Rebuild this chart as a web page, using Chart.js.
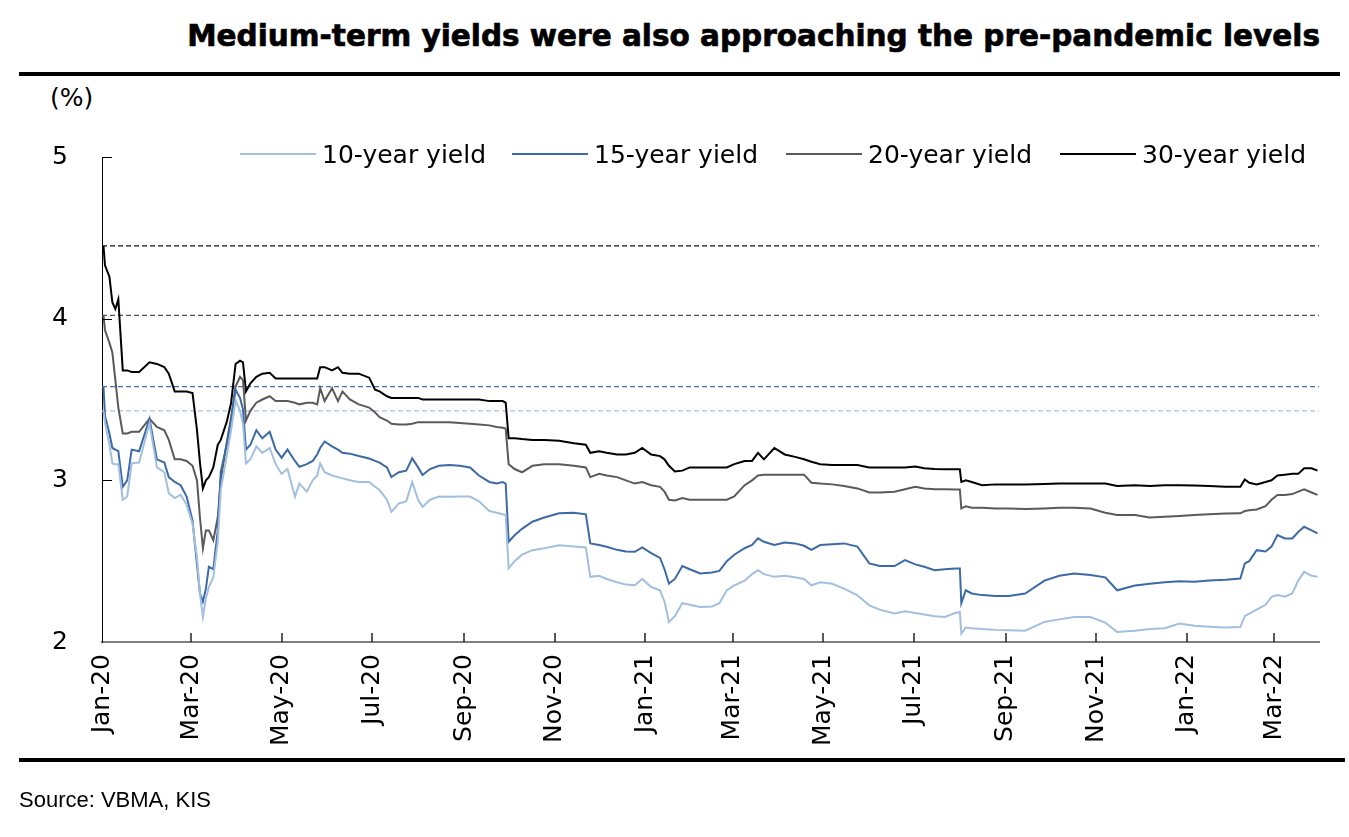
<!DOCTYPE html>
<html>
<head>
<meta charset="utf-8">
<script src="https://cdn.jsdelivr.net/npm/chart.js@4.4.1/dist/chart.umd.min.js"></script>
<style>
  html, body { margin: 0; padding: 0; background: #fff; }
  #wrap { position: relative; width: 1349px; height: 837px; overflow: hidden; font-family: "DejaVu Sans", sans-serif; }
  #chart { position: absolute; left: 0; top: 0; }
  .title { position: absolute; right: 29px; top: 19px; font: bold 29.5px "DejaVu Sans", sans-serif; color: #000; white-space: nowrap; -webkit-text-stroke: 0.7px #000; }
  .rule { position: absolute; left: 19px; height: 4px; background: #000; }
  .unit { position: absolute; left: 50px; top: 83px; font-size: 25px; color: #000; }
  .source { position: absolute; left: 19px; top: 787px; font: 22px "Liberation Sans", Arial, sans-serif; color: #000; }
  .legend-item { position: absolute; top: 138px; height: 32px; display: flex; align-items: center; font-size: 25px; color: #000; white-space: nowrap; }
  .legend-item span.line { display: inline-block; width: 76px; height: 2px; margin-right: 6px; }
</style>
</head>
<body>
<div id="wrap">
  <div class="title">Medium-term yields were also approaching the pre-pandemic levels</div>
  <div class="rule" style="top:72px; width:1321px;"></div>
  <div class="unit">(%)</div>
  <canvas id="chart" width="1349" height="837"></canvas>
  <div id="legend"></div>
  <div class="rule" style="top:758px; width:1326px;"></div>
  <div class="source">Source: VBMA, KIS</div>
</div>
<script>
// days after 1 Jan 2020
const dayOffsets = [
    1, 2, 5, 7, 9, 11, 14, 17, 20, 25,
    32, 37, 42, 45, 49, 53, 57, 61, 64, 66,
    68, 70, 72, 75, 78, 80, 84, 87, 90, 93,
    95, 97, 100, 104, 108, 113, 117, 121, 125, 130,
    133, 138, 142, 145, 147, 150, 155, 159, 162, 167,
    173, 180, 184, 187, 192, 195, 200, 205, 209, 213,
    216, 221, 227, 234, 241, 248, 254, 261, 266, 270,
    272, 274, 278, 283, 290, 298, 308, 318, 326, 329,
    335, 340, 347, 353, 359, 364, 370, 376, 379, 382,
    386, 391, 396, 403, 411, 416, 421, 426, 433, 438,
    442, 446, 453, 460, 467, 473, 478, 484, 492, 500,
    509, 517, 524, 534, 541, 548, 554, 561, 568, 575,
    578, 579, 582, 586, 593, 602, 611, 622, 635, 645,
    655, 666, 676, 684, 696, 706, 716, 726, 736, 746,
    757, 767, 770, 773, 778, 784, 788, 792, 797, 802,
    806, 810, 815, 819
];

const y10 = [
    3.43, 3.36, 3.22, 3.105, 3.10, 3.10, 2.88, 2.90, 3.105, 3.11,
    3.353, 3.08, 3.05, 2.92, 2.89, 2.91, 2.85, 2.73, 2.52, 2.30,
    2.155, 2.27, 2.34, 2.40, 2.62, 2.94, 3.15, 3.31, 3.497, 3.43,
    3.35, 3.105, 3.13, 3.21, 3.17, 3.20, 3.10, 3.04, 3.07, 2.90,
    2.98, 2.93, 3.00, 3.03, 3.105, 3.05, 3.03, 3.02, 3.012, 3.00,
    2.99, 2.99, 2.96, 2.94, 2.88, 2.805, 2.857, 2.87, 2.99, 2.88,
    2.836, 2.88, 2.90, 2.898, 2.90, 2.90, 2.87, 2.81, 2.80, 2.79,
    2.785, 2.455, 2.50, 2.54, 2.568, 2.58, 2.599, 2.59, 2.585, 2.403,
    2.41, 2.39, 2.37, 2.355, 2.351, 2.39, 2.34, 2.32, 2.25, 2.124,
    2.16, 2.24, 2.23, 2.217, 2.22, 2.24, 2.32, 2.35, 2.38, 2.42,
    2.444, 2.42, 2.403, 2.41, 2.40, 2.39, 2.351, 2.37, 2.36, 2.33,
    2.289, 2.227, 2.20, 2.176, 2.19, 2.18, 2.17, 2.16, 2.155, 2.18,
    2.186, 2.052, 2.09, 2.085, 2.08, 2.075, 2.072, 2.07, 2.124, 2.14,
    2.155, 2.155, 2.12, 2.062, 2.07, 2.08, 2.085, 2.114, 2.10, 2.095,
    2.09, 2.093, 2.16, 2.176, 2.20, 2.23, 2.279, 2.29, 2.28, 2.30,
    2.38, 2.434, 2.41, 2.403
];

const y15 = [
    3.58, 3.40, 3.29, 3.20, 3.19, 3.18, 2.96, 3.00, 3.19, 3.18,
    3.38, 3.13, 3.11, 3.02, 2.99, 2.97, 2.90, 2.75, 2.48, 2.30,
    2.25, 2.33, 2.465, 2.45, 2.69, 3.05, 3.22, 3.37, 3.56, 3.51,
    3.44, 3.19, 3.22, 3.31, 3.26, 3.30, 3.19, 3.14, 3.19, 3.12,
    3.084, 3.10, 3.12, 3.16, 3.20, 3.24, 3.21, 3.19, 3.17, 3.165,
    3.15, 3.135, 3.12, 3.11, 3.08, 3.02, 3.05, 3.06, 3.136, 3.08,
    3.033, 3.07, 3.09, 3.095, 3.09, 3.08, 3.03, 2.99, 2.98, 2.99,
    2.98, 2.62, 2.66, 2.70, 2.744, 2.77, 2.796, 2.80, 2.79, 2.61,
    2.60, 2.589, 2.57, 2.56, 2.558, 2.585, 2.55, 2.52, 2.45, 2.362,
    2.39, 2.47, 2.45, 2.424, 2.43, 2.44, 2.50, 2.54, 2.58, 2.60,
    2.641, 2.62, 2.60, 2.615, 2.61, 2.595, 2.57, 2.60, 2.605, 2.61,
    2.59, 2.486, 2.47, 2.47, 2.506, 2.48, 2.465, 2.444, 2.45, 2.455,
    2.455, 2.24, 2.32, 2.30, 2.29, 2.285, 2.285, 2.30, 2.38, 2.41,
    2.424, 2.415, 2.40, 2.32, 2.35, 2.36, 2.37, 2.375, 2.372, 2.38,
    2.385, 2.393, 2.486, 2.50, 2.568, 2.56, 2.59, 2.661, 2.64, 2.64,
    2.68, 2.713, 2.69, 2.672
];

const y20 = [
    4.02, 3.93, 3.85, 3.79, 3.62, 3.45, 3.29, 3.29, 3.30, 3.30,
    3.38, 3.33, 3.31, 3.25, 3.13, 3.13, 3.12, 3.09, 3.00, 2.77,
    2.58, 2.69, 2.69, 2.63, 2.77, 3.00, 3.23, 3.39, 3.58, 3.64,
    3.62, 3.37, 3.43, 3.48, 3.50, 3.52, 3.49, 3.49, 3.49, 3.48,
    3.47, 3.48, 3.48, 3.47, 3.57, 3.49, 3.57, 3.49, 3.55, 3.50,
    3.47, 3.45, 3.42, 3.39, 3.37, 3.35, 3.345, 3.345, 3.35, 3.36,
    3.36, 3.36, 3.36, 3.36, 3.355, 3.35, 3.345, 3.34, 3.33, 3.325,
    3.32, 3.10, 3.07, 3.05, 3.09, 3.10, 3.10, 3.09, 3.08, 3.02,
    3.04, 3.03, 3.02, 3.00, 2.98, 2.99, 2.97, 2.96, 2.93, 2.88,
    2.875, 2.89, 2.88, 2.88, 2.88, 2.88, 2.88, 2.90, 2.97, 3.00,
    3.03, 3.035, 3.035, 3.035, 3.035, 3.035, 2.985, 2.98, 2.975, 2.965,
    2.95, 2.925, 2.925, 2.93, 2.945, 2.96, 2.95, 2.945, 2.945, 2.944,
    2.944, 2.826, 2.84, 2.83, 2.83, 2.826, 2.826, 2.823, 2.826, 2.83,
    2.83, 2.826, 2.80, 2.785, 2.785, 2.77, 2.775, 2.78, 2.785, 2.79,
    2.795, 2.796, 2.81, 2.815, 2.82, 2.84, 2.88, 2.91, 2.91, 2.915,
    2.93, 2.944, 2.925, 2.91
];

const y30 = [
    4.45, 4.33, 4.26, 4.10, 4.06, 4.12, 3.68, 3.68, 3.67, 3.67,
    3.73, 3.72, 3.70, 3.66, 3.55, 3.55, 3.55, 3.54, 3.31, 3.11,
    2.95, 3.00, 3.02, 3.08, 3.22, 3.25, 3.36, 3.48, 3.72, 3.74,
    3.73, 3.55, 3.60, 3.64, 3.66, 3.665, 3.63, 3.63, 3.63, 3.63,
    3.63, 3.63, 3.63, 3.63, 3.70, 3.70, 3.68, 3.70, 3.665, 3.66,
    3.66, 3.635, 3.56, 3.55, 3.52, 3.51, 3.51, 3.51, 3.51, 3.51,
    3.50, 3.50, 3.50, 3.50, 3.50, 3.50, 3.50, 3.49, 3.49, 3.49,
    3.48, 3.26, 3.26, 3.255, 3.25, 3.25, 3.245, 3.23, 3.22, 3.17,
    3.18, 3.17, 3.16, 3.16, 3.17, 3.20, 3.16, 3.15, 3.13, 3.09,
    3.055, 3.06, 3.08, 3.08, 3.08, 3.08, 3.08, 3.10, 3.12, 3.12,
    3.17, 3.13, 3.20, 3.16, 3.145, 3.13, 3.115, 3.10, 3.095, 3.095,
    3.095, 3.08, 3.08, 3.08, 3.08, 3.085, 3.075, 3.07, 3.068, 3.068,
    3.068, 2.99, 3.00, 2.99, 2.97, 2.975, 2.975, 2.975, 2.978, 2.98,
    2.98, 2.98, 2.98, 2.965, 2.97, 2.965, 2.97, 2.97, 2.968, 2.965,
    2.96, 2.96, 3.005, 2.985, 2.975, 2.99, 3.00, 3.03, 3.035, 3.04,
    3.04, 3.075, 3.075, 3.06
];

// pre-pandemic levels (start of 2020): 30y, 20y, 15y, 10y
const preLevels = [4.45, 4.02, 3.58, 3.43];

const tickDays = [0, 60, 121, 182, 244, 305, 366, 425, 486, 547, 609, 670, 731, 790];
const tickLabels = ["Jan-20", "Mar-20", "May-20", "Jul-20", "Sep-20", "Nov-20", "Jan-21",
                    "Mar-21", "May-21", "Jul-21", "Sep-21", "Nov-21", "Jan-22", "Mar-22"];

const xMax = 820;

const series = [
    { label: "10-year yield", values: y10, color: "#a3bfdf" },
    { label: "15-year yield", values: y15, color: "#3c6aa6" },
    { label: "20-year yield", values: y20, color: "#5a5a5a" },
    { label: "30-year yield", values: y30, color: "#000000" }
];
const dashColors = ["#111111", "#555555", "#4a70a6", "#a9c2df"];

const datasets = series.map(s => ({
    label: s.label,
    data: dayOffsets.map((d, i) => ({ x: d, y: s.values[i] })),
    borderColor: s.color,
    borderWidth: 2,
    pointRadius: 0,
    tension: 0,
    order: 1
}));

preLevels.forEach((v, i) => {
    datasets.push({
        label: "pre-" + i,
        data: [{ x: 0, y: v }, { x: xMax, y: v }],
        borderColor: dashColors[i],
        borderWidth: 1.3,
        borderDash: [5, 3],
        pointRadius: 0,
        order: 10
    });
});

// legend (sits inside the plot area, so done in html)
const legendLeft = [240, 512, 786, 1060];
const legendEl = document.getElementById("legend");
series.forEach((s, i) => {
    const item = document.createElement("div");
    item.className = "legend-item";
    item.style.left = legendLeft[i] + "px";
    item.innerHTML = '<span class="line" style="background:' + s.color + '"></span>' + s.label;
    legendEl.appendChild(item);
});

const innerTicks = {
    id: "innerTicks",
    afterDraw(chart) {
        const { ctx, scales: { x, y } } = chart;
        ctx.save();
        ctx.strokeStyle = "#000";
        ctx.lineWidth = 1;
        [3, 4, 5].forEach(v => {
            const py = Math.round(y.getPixelForValue(v)) + 0.5;
            ctx.beginPath();
            ctx.moveTo(x.left, py);
            ctx.lineTo(x.left + 10, py);
            ctx.stroke();
        });
        ctx.strokeStyle = "#222";
        ctx.lineWidth = 1.5;
        tickDays.slice(1).forEach(d => {
            const px = Math.round(x.getPixelForValue(d));
            ctx.beginPath();
            ctx.moveTo(px, y.bottom);
            ctx.lineTo(px, y.bottom - 9);
            ctx.stroke();
        });
        ctx.restore();
    }
};

new Chart(document.getElementById("chart"), {
    type: "line",
    data: { datasets },
    options: {
        responsive: false,
        devicePixelRatio: 1,
        animation: false,
        layout: { padding: { top: 157, right: 30, bottom: 85, left: 0 } },
        plugins: {
            legend: { display: false },
            tooltip: { enabled: false }
        },
        scales: {
            x: {
                type: "linear",
                min: 0,
                max: xMax,
                afterBuildTicks: scale => {
                    scale.ticks = tickDays.map(v => ({ value: v }));
                },
                afterFit: scale => { scale.height = 110; },
                grid: { display: false, drawTicks: false },
                border: { display: true, color: "#7f7f7f", width: 2 },
                ticks: {
                    autoSkip: false,
                    minRotation: 90,
                    maxRotation: 90,
                    padding: 12,
                    color: "#000",
                    font: { family: "DejaVu Sans", size: 25 },
                    callback: v => tickLabels[tickDays.indexOf(v)]
                }
            },
            y: {
                min: 2,
                max: 5,
                afterFit: scale => { scale.width = 102; },
                grid: { display: false, drawTicks: false },
                border: { display: true, color: "#000", width: 1 },
                ticks: {
                    stepSize: 1,
                    padding: 34,
                    color: "#000",
                    font: { family: "DejaVu Sans", size: 25 }
                }
            }
        }
    },
    plugins: [innerTicks]
});
</script>
</body>
</html>
